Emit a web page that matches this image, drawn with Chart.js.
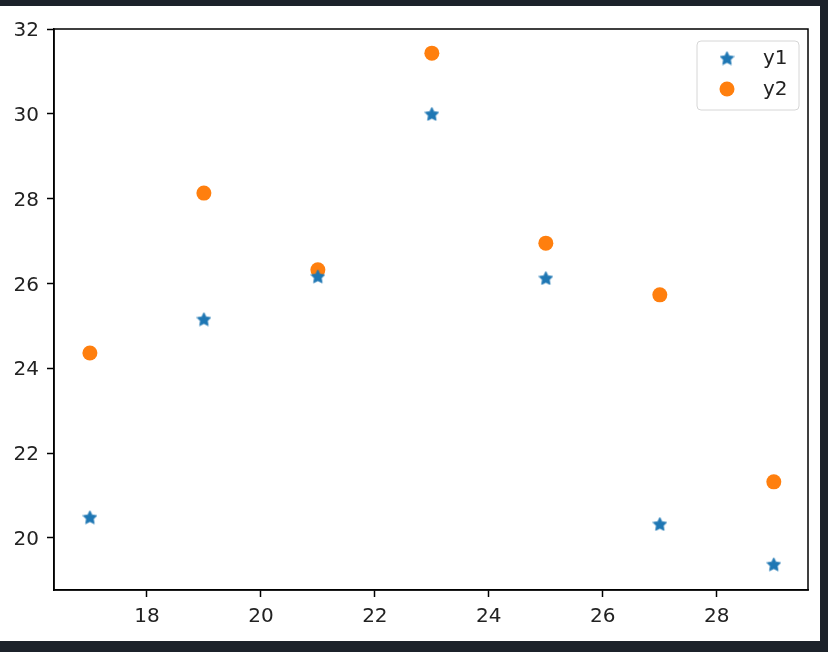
<!DOCTYPE html>
<html>
<head>
<meta charset="utf-8">
<script src="https://cdn.jsdelivr.net/npm/chart.js@4/dist/chart.umd.min.js"></script>
<style>
  html, body { margin: 0; padding: 0; background: #1c222a; }
  #wrap { position: absolute; left: 0; top: 6px; width: 820px; height: 635px; background: #fff; }
</style>
</head>
<body>
<div id="wrap"><canvas id="chartScatter" width="820" height="635"></canvas></div>
<script>
var xValues = [17, 19, 21, 23, 25, 27, 29];
var y1Values = [20.49, 25.16, 26.17, 30.0, 26.13, 20.33, 19.38];
var y2Values = [24.36, 28.13, 26.32, 31.43, 26.95, 25.73, 21.32];
var xTicks = [18, 20, 22, 24, 26, 28];
var yTicks = [20, 22, 24, 26, 28, 30, 32];

var blue = '#1f77b4';
var orange = '#ff7f0e';

// filled five point star like matplotlib '*'
function makeStar(size, color) {
  var c = document.createElement('canvas');
  c.width = size; c.height = size;
  var g = c.getContext('2d');
  var cx = size / 2, cy = size / 2 + 0.8;
  var outer = size / 2 - 0.3, inner = outer * 0.5;
  g.beginPath();
  for (var i = 0; i < 10; i++) {
    var r = i % 2 === 0 ? outer : inner;
    var a = -Math.PI / 2 + i * Math.PI / 5;
    var px = cx + r * Math.cos(a), py = cy + r * Math.sin(a);
    if (i === 0) g.moveTo(px, py); else g.lineTo(px, py);
  }
  g.closePath();
  g.fillStyle = color;
  g.fill();
  g.strokeStyle = color;
  g.lineWidth = 0.8;
  g.stroke();
  return c;
}
var star = makeStar(15, blue);

function toPoints(ys) {
  return xValues.map(function (x, i) { return { x: x, y: ys[i] }; });
}

var frame = {
  id: 'frame',
  afterDraw: function (chart) {
    var a = chart.chartArea, ctx = chart.ctx;
    ctx.save();
    ctx.strokeStyle = '#000';
    ctx.lineWidth = 1.5;
    ctx.strokeRect(a.left, a.top, a.right - a.left, a.bottom - a.top);

    // legend box
    var lx = 697, ly = 35, lw = 102, lh = 69, r = 4;
    ctx.beginPath();
    ctx.moveTo(lx + r, ly);
    ctx.arcTo(lx + lw, ly, lx + lw, ly + lh, r);
    ctx.arcTo(lx + lw, ly + lh, lx, ly + lh, r);
    ctx.arcTo(lx, ly + lh, lx, ly, r);
    ctx.arcTo(lx, ly, lx + lw, ly, r);
    ctx.closePath();
    ctx.fillStyle = 'rgba(255,255,255,0.8)';
    ctx.fill();
    ctx.strokeStyle = '#d6d6d6';
    ctx.lineWidth = 1;
    ctx.stroke();

    ctx.drawImage(star, 727 - 7.5, 52 - 7.5);
    ctx.beginPath();
    ctx.arc(727, 83, 7.5, 0, Math.PI * 2);
    ctx.fillStyle = orange;
    ctx.fill();

    ctx.fillStyle = '#222';
    ctx.font = '20px "DejaVu Sans"';
    ctx.textBaseline = 'middle';
    ctx.fillText('y1', 763, 53);
    ctx.fillText('y2', 763, 84);
    ctx.restore();
  }
};

var ctx = document.getElementById('chartScatter').getContext('2d');
var chartScatter = new Chart(ctx, {
  type: 'scatter',
  data: {
    datasets: [
      { label: 'y1', data: toPoints(y1Values), pointStyle: star, pointRadius: 7.5, backgroundColor: blue, borderColor: blue, showLine: false },
      { label: 'y2', data: toPoints(y2Values), pointStyle: 'circle', pointRadius: 7.5, borderWidth: 0, backgroundColor: orange, borderColor: orange, showLine: false }
    ]
  },
  options: {
    responsive: false,
    animation: false,
    layout: { padding: { top: 23, right: 12, left: 0, bottom: 0 } },
    plugins: { legend: { display: false }, tooltip: { enabled: false } },
    scales: {
      x: {
        type: 'linear', min: 16.37, max: 29.6,
        afterBuildTicks: function (s) { s.ticks = xTicks.map(function (v) { return { value: v }; }); },
        afterFit: function (s) { s.height = 51; },
        grid: { display: true, drawOnChartArea: false, drawTicks: true, tickLength: 7, tickWidth: 1.5, tickColor: '#000' },
        border: { display: true, color: '#000', width: 1.5 },
        ticks: { color: '#222', font: { family: 'DejaVu Sans', size: 20 }, padding: 8, maxRotation: 0 }
      },
      y: {
        type: 'linear', min: 18.77, max: 32.0,
        afterBuildTicks: function (s) { s.ticks = yTicks.map(function (v) { return { value: v }; }); },
        afterFit: function (s) { s.width = 54; },
        grid: { display: true, drawOnChartArea: false, drawTicks: true, tickLength: 7, tickWidth: 1.5, tickColor: '#000' },
        border: { display: true, color: '#000', width: 1.5 },
        ticks: { color: '#222', font: { family: 'DejaVu Sans', size: 20 }, padding: 8, labelOffset: 2 }
      }
    }
  },
  plugins: [frame]
});
</script>
</body>
</html>
